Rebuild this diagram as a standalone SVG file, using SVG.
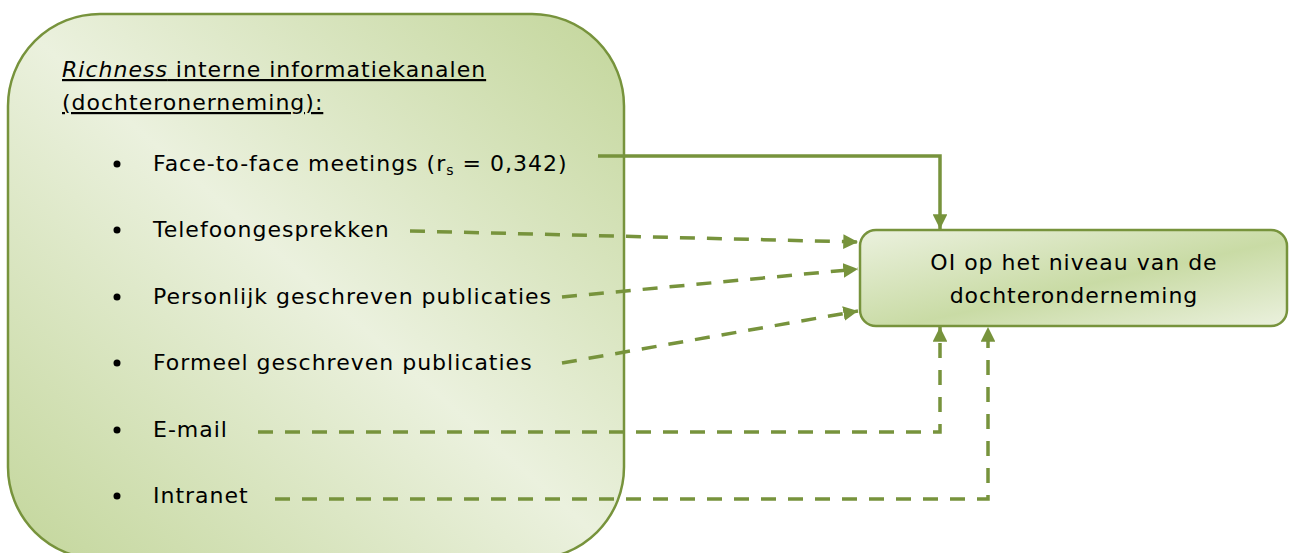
<svg xmlns="http://www.w3.org/2000/svg" width="1295" height="553" viewBox="0 0 1295 553">
<defs>
<linearGradient id="gBig" x1="0" y1="1" x2="1" y2="0">
<stop offset="0" stop-color="#c3d69b"/>
<stop offset="0.5" stop-color="#ebf1de"/>
<stop offset="1" stop-color="#c3d69b"/>
</linearGradient>
<linearGradient id="gSmall" x1="0" y1="0" x2="1" y2="1">
<stop offset="0" stop-color="#ebf1de"/>
<stop offset="0.55" stop-color="#c9dba5"/>
<stop offset="1" stop-color="#ebf1de"/>
</linearGradient>
<marker id="arr" viewBox="0 0 10 10" refX="10" refY="5" markerWidth="4.2" markerHeight="4.2" markerUnits="strokeWidth" orient="auto">
<path d="M0,0 L10,5 L0,10 z" fill="#77933c"/>
</marker>
</defs>
<style>
.box{stroke:#77933c;stroke-width:2.5}
.t{font-family:"DejaVu Sans","Verdana",sans-serif;font-size:22px;letter-spacing:1px;fill:#000}
.c{fill:none;stroke:#77933c;stroke-width:3.5}
.d{stroke-dasharray:15 12}
</style>
<g id="source">
<rect class="box" x="8" y="14" width="616" height="545" rx="92" ry="92" fill="url(#gBig)"/>
<text class="t" x="62" y="77" text-decoration="underline"><tspan font-style="italic">Richness</tspan> interne informatiekanalen</text>
<text class="t" x="62" y="110" text-decoration="underline">(dochteronerneming):</text>
<g class="t">
<circle cx="117" cy="164" r="3.5"/>
<text x="153" y="171">Face-to-face meetings (r<tspan font-size="14" dy="4">s</tspan><tspan dy="-4"> = 0,342)</tspan></text>
<circle cx="117" cy="230" r="3.5"/>
<text x="153" y="237">Telefoongesprekken</text>
<circle cx="117" cy="297" r="3.5"/>
<text x="153" y="304">Personlijk geschreven publicaties</text>
<circle cx="117" cy="363" r="3.5"/>
<text x="153" y="370">Formeel geschreven publicaties</text>
<circle cx="117" cy="430" r="3.5"/>
<text x="153" y="437">E-mail</text>
<circle cx="117" cy="496" r="3.5"/>
<text x="153" y="503">Intranet</text>
</g>
</g>
<g id="target">
<rect class="box" x="860" y="230" width="427" height="96" rx="16" ry="16" fill="url(#gSmall)"/>
<text class="t" x="1074" y="270" text-anchor="middle">OI op het niveau van de</text>
<text class="t" x="1074" y="303" text-anchor="middle">dochteronderneming</text>
</g>
<g id="connectors">
<path class="c" d="M598,156 H940 V229" marker-end="url(#arr)"/>
<path class="c d" d="M410,231 L858,242" marker-end="url(#arr)"/>
<path class="c d" d="M562,297 L858,269" marker-end="url(#arr)"/>
<path class="c d" d="M562,363 L858,311" marker-end="url(#arr)"/>
<path class="c d" d="M258,432 H940 V327" marker-end="url(#arr)"/>
<path class="c d" d="M275,499 H988 V327" marker-end="url(#arr)"/>
</g>
</svg>
